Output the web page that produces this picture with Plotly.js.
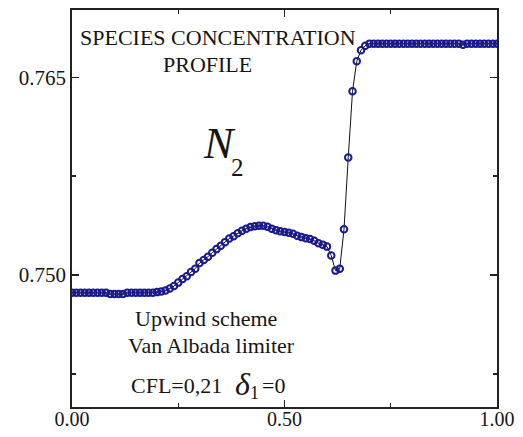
<!DOCTYPE html>
<html>
<head>
<meta charset="utf-8">
<script src="https://cdn.plot.ly/plotly-3.0.1.min.js"></script>
<style>
html,body{margin:0;padding:0;background:#fff;}
#chart{width:523px;height:437px;}
</style>
</head>
<body>
<div id="chart"></div>
<script>
// Position along the domain (normalised)
const xPos = [
  0.00,0.01,0.02,0.03,0.04,0.05,0.06,0.07,0.08,0.09,
  0.10,0.11,0.12,0.13,0.14,0.15,0.16,0.17,0.18,0.19,
  0.20,0.21,0.22,0.23,0.24,0.25,0.26,0.27,0.28,0.29,
  0.30,0.31,0.32,0.33,0.34,0.35,0.36,0.37,0.38,0.39,
  0.40,0.41,0.42,0.43,0.44,0.45,0.46,0.47,0.48,0.49,
  0.50,0.51,0.52,0.53,0.54,0.55,0.56,0.57,0.58,0.59,
  0.60,0.61,0.62,0.63,0.64,0.65,0.66,0.67,0.68,0.69,
  0.70,0.71,0.72,0.73,0.74,0.75,0.76,0.77,0.78,0.79,
  0.80,0.81,0.82,0.83,0.84,0.85,0.86,0.87,0.88,0.89,
  0.90,0.91,0.92,0.93,0.94,0.95,0.96,0.97,0.98,0.99,
  1.00
];
// N2 mass fraction
const n2Conc = [
  0.74866,0.74866,0.74866,0.74866,0.74866,0.74866,0.74866,0.74866,0.74866,0.74856,
  0.74856,0.74856,0.74856,0.74866,0.74866,0.74866,0.74866,0.74866,0.74866,0.74866,
  0.74871,0.74875,0.74883,0.74898,0.74917,0.74943,0.74970,0.74992,0.75023,0.75049,
  0.75091,0.75114,0.75140,0.75170,0.75197,0.75223,0.75250,0.75277,0.75295,0.75318,
  0.75337,0.75352,0.75364,0.75371,0.75375,0.75375,0.75367,0.75352,0.75341,0.75333,
  0.75327,0.75322,0.75314,0.75299,0.75288,0.75280,0.75273,0.75261,0.75242,0.75231,
  0.75216,0.75148,0.75034,0.75049,0.75348,0.75892,0.76394,0.76621,0.76705,0.76739,
  0.76755,0.76755,0.76755,0.76755,0.76755,0.76755,0.76755,0.76755,0.76755,0.76755,
  0.76755,0.76755,0.76755,0.76755,0.76755,0.76755,0.76755,0.76755,0.76755,0.76755,
  0.76755,0.76755,0.76746,0.76755,0.76755,0.76755,0.76755,0.76755,0.76755,0.76755,
  0.76755
];
const xTickVals = [0, 0.5, 1];
const xTickText = ["0.00", "0.50", "1.00"];
const yTickVals = [0.750, 0.765];
const yTickText = ["0.750", "0.765"];

const serif = "Liberation Serif, Times New Roman, serif";
const txtColor = "#151515";

const trace = {
  x: xPos, y: n2Conc,
  mode: "lines+markers",
  type: "scatter",
  line: {color: "#111111", width: 1},
  marker: {symbol: "circle-open", size: 6.5, color: "#1a1a8c", line: {width: 2, color: "#1a1a8c"}},
  showlegend: false,
  hoverinfo: "skip"
};

function ann(text, x, y, size, extra) {
  return Object.assign({
    text: text, x: x, y: y, xref: "paper", yref: "paper",
    xanchor: "center", yanchor: "middle", showarrow: false,
    font: {family: serif, size: size, color: txtColor}
  }, extra || {});
}

const layout = {
  width: 523, height: 437,
  margin: {l: 72, r: 26, t: 10, b: 30, pad: 0},
  paper_bgcolor: "#ffffff", plot_bgcolor: "#ffffff",
  xaxis: {
    range: [0, 1],
    tickvals: xTickVals, ticktext: xTickText,
    ticks: "inside", ticklen: 7, tickwidth: 1.4, tickcolor: "#222",
    minor: {tickvals: [0.25, 0.75], ticks: "inside", ticklen: 4, tickwidth: 1.4, tickcolor: "#222"},
    showline: true, linecolor: "#222", linewidth: 1.8, mirror: "ticks",
    showgrid: false, zeroline: false,
    ticklabelstandoff: -7,
    tickfont: {family: serif, size: 20, color: txtColor}
  },
  yaxis: {
    range: [0.7400, 0.7701],
    tickvals: yTickVals, ticktext: yTickText,
    ticks: "inside", ticklen: 7, tickwidth: 1.4, tickcolor: "#222",
    minor: {tickvals: [0.7425, 0.7575], ticks: "inside", ticklen: 4, tickwidth: 1.4, tickcolor: "#222"},
    showline: true, linecolor: "#222", linewidth: 1.8, mirror: "ticks",
    showgrid: false, zeroline: false,
    tickfont: {family: serif, size: 21, color: txtColor}
  },
  annotations: [
    ann("SPECIES CONCENTRATION", 0.3424, 0.9295, 22),
    ann("PROFILE", 0.3188, 0.8627, 22),
    ann("<i>N</i>", 0.3460, 0.6625, 44),
    ann("2", 0.3905, 0.6040, 25),
    ann("Upwind scheme", 0.3153, 0.2234, 22),
    ann("Van Albada limiter", 0.3287, 0.1549, 22),
    ann("CFL=0,21", 0.2459, 0.0542, 22),
    ann("<i>δ</i>", 0.4020, 0.0579, 32),
    ann("1", 0.4300, 0.036, 18),
    ann("=0", 0.4750, 0.0542, 22)
  ]
};

Plotly.newPlot("chart", [trace], layout, {displayModeBar: false, staticPlot: true});
</script>
</body>
</html>
